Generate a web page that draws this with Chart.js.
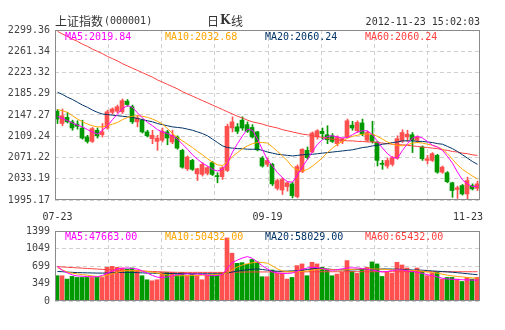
<!DOCTYPE html>
<html>
<head>
<meta charset="utf-8">
<script src="https://cdn.jsdelivr.net/npm/chart.js@4.4.0/dist/chart.umd.min.js"></script>
<style>
  html, body { margin: 0; padding: 0; background: #fff; }
  #wrap { position: relative; width: 505px; height: 330px; }
  #kChart { position: absolute; left: 0; top: 0; }
  #volChart { position: absolute; left: 0; top: 225px; }
</style>
</head>
<body>
<div id="wrap">
  <canvas id="kChart" width="505" height="225"></canvas>
  <canvas id="volChart" width="505" height="105"></canvas>
</div>
<script>
// 上证指数 日K, 2012-07-23 .. 2012-11-23 (85 trading days)
const priceTicks = [1995.17, 2033.19, 2071.22, 2109.24, 2147.27, 2185.29, 2223.32, 2261.34, 2299.36];
const volTicks = [0, 349, 699, 1049, 1399];
const xTickIndex = [0, 42, 84];
const xTickText = ['07-23', '09-19', '11-23'];

const open = [2154,2132,2143,2135,2131,2124,2108,2100,2120,2112,
  2124,2152,2154,2153,2172,2162,2135,2138,2117,2105,
  2100,2102,2117,2099,2108,2084,2051,2066,2042,2041,
  2043,2062,2038,2037,2048,2124,2126,2138,2130,2125,
  2117,2070,2059,2059,2016,2013,2019,2024,2001,2046,
  2084,2081,2108,2118,2112,2110,2096,2100,2108,2129,
  2119,2133,2102,2112,2099,2061,2056,2059,2070,2101,
  2108,2112,2102,2090,2066,2066,2075,2045,2044,2026,
  2014,2021,2006,2021,2016];
const high = [2157,2158,2152,2138,2137,2138,2111,2125,2124,2132,
  2156,2160,2165,2176,2175,2165,2147,2140,2120,2120,
  2111,2124,2120,2120,2110,2086,2074,2068,2052,2062,
  2055,2064,2044,2055,2131,2144,2132,2144,2135,2130,
  2118,2073,2070,2061,2033,2035,2028,2027,2058,2087,
  2090,2117,2121,2124,2128,2114,2110,2106,2140,2136,
  2137,2140,2118,2136,2100,2066,2070,2073,2110,2121,
  2120,2116,2110,2092,2075,2080,2077,2056,2046,2027,
  2020,2023,2036,2024,2029];
const low = [2132,2128,2133,2120,2122,2104,2097,2098,2106,2108,
  2122,2149,2151,2150,2163,2132,2126,2115,2108,2096,
  2084,2099,2094,2096,2086,2052,2048,2048,2030,2038,
  2040,2039,2026,2032,2046,2117,2114,2120,2116,2106,
  2083,2054,2055,2021,2013,2005,2011,1999,1999,2044,
  2068,2080,2104,2104,2096,2098,2092,2096,2106,2120,
  2116,2110,2100,2097,2056,2050,2052,2056,2068,2098,
  2100,2080,2098,2066,2060,2064,2043,2043,2026,2000,
  1998,2004,1997,2013,2012];
const close = [2140,2146,2135,2124,2127,2106,2100,2123,2110,2117,
  2153,2158,2162,2173,2166,2135,2142,2117,2110,2111,
  2106,2118,2106,2111,2088,2054,2072,2050,2051,2059,
  2053,2041,2037,2053,2127,2135,2118,2124,2118,2108,
  2085,2056,2066,2024,2030,2032,2026,2003,2055,2086,
  2071,2115,2119,2114,2103,2100,2107,2105,2137,2124,
  2134,2113,2116,2100,2066,2059,2066,2071,2105,2116,
  2113,2102,2108,2069,2069,2078,2045,2054,2028,2012,
  2017,2006,2030,2015,2024];

const ma5 = [2145,2141,2137,2133,2129,2126,2121,2117,2113,2120,
  2128,2139,2149,2159,2164,2161,2151,2142,2134,2128,
  2121,2117,2114,2110,2104,2095,2086,2076,2068,2061,
  2056,2050,2047,2050,2061,2081,2096,2110,2122,2120,
  2104,2085,2067,2056,2044,2035,2028,2027,2040,2055,
  2068,2082,2095,2103,2109,2110,2108,2106,2107,2112,
  2117,2119,2119,2112,2100,2088,2078,2071,2070,2084,
  2096,2106,2109,2106,2100,2093,2090,2084,2073,2061,
  2045,2031,2024,2019,2019.84];
const ma10 = [2157,2155,2152,2146,2140,2135,2131,2128,2126,2126,
  2128,2131,2134,2139,2143,2145,2146,2145,2143,2140,
  2136,2131,2123,2114,2107,2101,2095,2089,2082,2076,
  2069,2063,2058,2057,2063,2073,2080,2087,2092,2096,
  2098,2098,2097,2090,2082,2074,2065,2054,2049,2047,
  2050,2056,2063,2071,2080,2088,2095,2100,2106,2109,
  2111,2113,2113,2113,2109,2104,2099,2095,2093,2092,
  2094,2097,2098,2097,2095,2093,2090,2086,2078,2068,
  2058,2050,2044,2038,2032.68];
const ma20 = [2188,2184,2179,2175,2170,2165,2161,2156,2152,2149,
  2148,2147,2146,2145,2144,2143,2141,2139,2137,2135,
  2132,2130,2128,2126,2125,2124,2122,2120,2117,2114,
  2110,2104,2098,2092,2089,2088,2087,2087,2086,2086,
  2086,2084,2081,2079,2077,2076,2075,2074,2075,2076,
  2077,2077,2078,2079,2080,2081,2082,2083,2084,2085,
  2087,2089,2090,2092,2093,2095,2096,2098,2099,2101,
  2101,2101,2100,2100,2099,2098,2096,2095,2091,2087,
  2082,2076,2070,2064,2059];
const ma60 = [2297,2292,2288,2283,2279,2274,2270,2265,2261,2257,
  2252,2248,2244,2239,2235,2231,2227,2223,2219,2215,
  2210,2206,2202,2198,2194,2189,2185,2181,2177,2173,
  2169,2165,2161,2157,2153,2149,2145,2142,2138,2135,
  2133,2131,2128,2126,2124,2121,2119,2117,2115,2113,
  2112,2110,2109,2107,2105,2104,2103,2102,2101,2101,
  2100,2100,2099,2099,2098,2097,2096,2095,2094,2094,
  2093,2092,2091,2090,2089,2088,2087,2085,2084,2082,
  2081,2079,2078,2076,2075];

const volume = [505,505,438,491,471,471,471,471,471,471,
  673,693,673,660,640,660,620,505,424,404,
  424,572,572,572,525,572,505,538,505,424,
  525,525,525,572,1260,955,753,767,733,830,
  780,485,485,619,552,552,438,471,707,741,
  505,774,741,673,619,505,538,572,808,592,
  552,640,673,781,741,491,572,552,774,720,
  660,606,660,592,505,552,572,438,471,471,
  438,390,471,438,471];
const volMa5 = [690,610,560,520,500,495,488,485,485,510,
  560,600,640,655,660,650,640,600,555,510,
  475,471,480,505,525,538,540,538,538,530,
  515,505,510,530,660,770,820,860,888,850,
  780,700,640,580,560,552,550,560,600,635,
  660,673,665,650,620,615,625,645,660,662,
  660,650,635,615,600,580,590,610,620,618,
  600,590,575,550,525,505,480,455,440,435,
  430,425,422,418,417];
const volMa10 = [665,620,575,555,540,528,515,500,488,495,
  520,545,575,600,606,606,606,600,590,575,
  560,540,520,505,505,505,505,508,512,516,
  520,525,530,540,560,630,680,720,745,765,
  774,770,755,700,640,600,585,585,585,590,
  600,615,630,640,635,628,622,620,625,632,
  640,640,640,640,640,635,628,622,619,615,
  612,610,605,595,582,570,555,535,515,500,
  490,480,470,462,458];
const volMa20 = [590,585,578,572,567,565,562,560,558,558,
  560,565,570,572,572,570,566,562,558,556,
  554,552,550,550,550,548,547,546,545,545,
  545,545,545,545,560,580,598,612,625,635,
  640,630,615,600,595,595,598,602,606,615,
  630,645,652,648,640,630,625,620,619,622,
  625,630,633,636,638,640,640,638,635,630,
  625,620,619,615,608,600,595,588,582,575,
  565,555,545,535,525];
const volMa60 = [686,680,674,668,662,656,650,644,638,632,
  626,621,616,612,608,605,602,598,594,590,
  586,582,578,575,573,572,572,572,572,572,
  572,572,572,572,574,576,577,578,579,580,
  580,581,581,582,582,582,583,583,583,583,
  584,584,584,584,585,585,585,585,585,585,
  585,585,585,585,585,585,585,585,585,585,
  585,585,585,585,585,585,585,585,585,585,
  585,585,585,585,585];

const priceLegend = ['MA5:2019.84', 'MA10:2032.68', 'MA20:2060.24', 'MA60:2060.24'];
const volLegend = ['MA5:47663.00', 'MA10:50432.00', 'MA20:58029.00', 'MA60:65432.00'];

const UP = '#ff5050';
const DOWN = '#009900';
const maColors = ['#ff00ff', '#ffa500', '#003366', '#ff4040'];
const GRID = '#d0d0d0';
const MONO = '10px "DejaVu Sans Mono"';
const DIVISIONS = 8;

const idx = close.map((_, i) => i);
const barColor = idx.map(i => close[i] >= open[i] ? UP : DOWN);

function maLine(values, color) {
    return {
        type: 'line',
        data: values.map((v, i) => ({ x: i + 0.5, y: v })),
        borderColor: color,
        borderWidth: 1,
        pointRadius: 0,
        fill: false,
        tension: 0
    };
}

// shared axis setup: fixed 55px label column on the left
function panelOptions(yMin, yMax, yTickVals, fmt, pad) {
    return {
        responsive: false,
        animation: false,
        devicePixelRatio: 1,
        layout: { padding: pad },
        plugins: { legend: { display: false }, tooltip: { enabled: false } },
        scales: {
            x: {
                type: 'linear', min: 0, max: close.length, offset: false,
                afterFit: s => { s.height = 0; },
                ticks: { display: false },
                grid: { display: false },
                border: { display: false }
            },
            y: {
                min: yMin, max: yMax,
                afterBuildTicks: s => { s.ticks = yTickVals.map(v => ({ value: v })); },
                afterFit: s => { s.width = 55; s.paddingTop = 0; s.paddingBottom = 0; },
                ticks: { font: { family: 'DejaVu Sans Mono', size: 10 }, color: '#444', padding: 5, callback: fmt },
                grid: { color: GRID, drawTicks: false },
                border: { display: false, dash: [4, 3] }
            }
        }
    };
}

// dashed vertical grid, plot split into equal time divisions
const vGrid = {
    id: 'vGrid',
    beforeDatasetsDraw(chart) {
        const { ctx, chartArea: a, scales: { x } } = chart;
        ctx.save();
        ctx.strokeStyle = GRID;
        ctx.lineWidth = 1;
        ctx.setLineDash([4, 3]);
        for (let k = 1; k < DIVISIONS; k++) {
            const px = Math.round(x.getPixelForValue(k * close.length / DIVISIONS)) + 0.5;
            ctx.beginPath();
            ctx.moveTo(px, a.top);
            ctx.lineTo(px, a.bottom);
            ctx.stroke();
        }
        ctx.restore();
    }
};

// gray frame around the plot area
const frame = {
    id: 'frame',
    afterDatasetsDraw(chart) {
        const { ctx, chartArea: a } = chart;
        ctx.save();
        ctx.strokeStyle = '#8a8a8a';
        ctx.lineWidth = 1;
        ctx.strokeRect(a.left + 0.5, a.top + 0.5, a.right - a.left - 1, a.bottom - a.top - 1);
        ctx.restore();
    }
};

function drawLegend(ctx, a, texts, y) {
    ctx.font = MONO;
    ctx.textBaseline = 'middle';
    ctx.textAlign = 'left';
    texts.forEach((t, k) => {
        ctx.fillStyle = maColors[k];
        ctx.fillText(t, a.left + 10 + k * 100, y);
    });
}

const priceText = {
    id: 'priceText',
    afterDraw(chart) {
        const { ctx, chartArea: a, scales } = chart;
        ctx.save();
        ctx.textBaseline = 'middle';
        ctx.fillStyle = '#333';
        ctx.font = '12px "Noto Sans CJK SC"';
        ctx.fillText('上证指数', a.left, 21);
        ctx.font = MONO;
        ctx.fillText('(000001)', a.left + 49, 21);
        ctx.font = '12px "Noto Sans CJK SC"';
        ctx.fillText('日', 207, 21);
        ctx.font = 'bold 12px "DejaVu Serif"';
        ctx.fillText('K', 220, 21);
        ctx.font = '12px "Noto Sans CJK SC"';
        ctx.fillText('线', 231, 21);
        ctx.font = MONO;
        ctx.textAlign = 'right';
        ctx.fillText('2012-11-23 15:02:03', a.right, 22);

        drawLegend(ctx, a, priceLegend, 37);

        // date labels under the price panel
        ctx.font = MONO;
        ctx.fillStyle = '#333';
        ctx.textAlign = 'left';
        xTickIndex.forEach((i, k) => {
            const w = ctx.measureText(xTickText[k]).width;
            let left = scales.x.getPixelForValue(i + 0.5) - w / 2;
            left = Math.min(left, a.right + 3 - w);
            ctx.fillText(xTickText[k], left, 217);
        });
        ctx.restore();
    }
};

const volText = {
    id: 'volText',
    afterDraw(chart) {
        const { ctx, chartArea: a } = chart;
        ctx.save();
        drawLegend(ctx, a, volLegend, 12);
        ctx.restore();
    }
};

new Chart(document.getElementById('kChart'), {
    type: 'bar',
    data: {
        datasets: [
            maLine(ma5, maColors[0]),
            maLine(ma10, maColors[1]),
            maLine(ma20, maColors[2]),
            maLine(ma60, maColors[3]),
            {
                data: idx.map(i => ({ x: i + 0.4, y: [open[i], close[i]] })),
                backgroundColor: barColor,
                barThickness: 4,
                minBarLength: 1,
                grouped: false
            },
            {
                data: idx.map(i => ({ x: i + 0.5, y: [low[i], high[i]] })),
                backgroundColor: barColor,
                barThickness: 1,
                grouped: false
            }
        ]
    },
    options: panelOptions(priceTicks[0], priceTicks[priceTicks.length - 1], priceTicks,
        v => v.toFixed(2), { left: 0, right: 25, top: 30, bottom: 25 }),
    plugins: [vGrid, frame, priceText]
});

new Chart(document.getElementById('volChart'), {
    type: 'bar',
    data: {
        datasets: [
            maLine(volMa5, maColors[0]),
            maLine(volMa10, maColors[1]),
            maLine(volMa20, maColors[2]),
            maLine(volMa60, maColors[3]),
            {
                data: idx.map(i => ({ x: i + 0.4, y: volume[i] })),
                backgroundColor: barColor,
                barThickness: 4,
                grouped: false
            }
        ]
    },
    options: panelOptions(volTicks[0], volTicks[volTicks.length - 1], volTicks,
        v => String(v), { left: 0, right: 25, top: 6, bottom: 29 }),
    plugins: [vGrid, frame, volText]
});
</script>
</body>
</html>
